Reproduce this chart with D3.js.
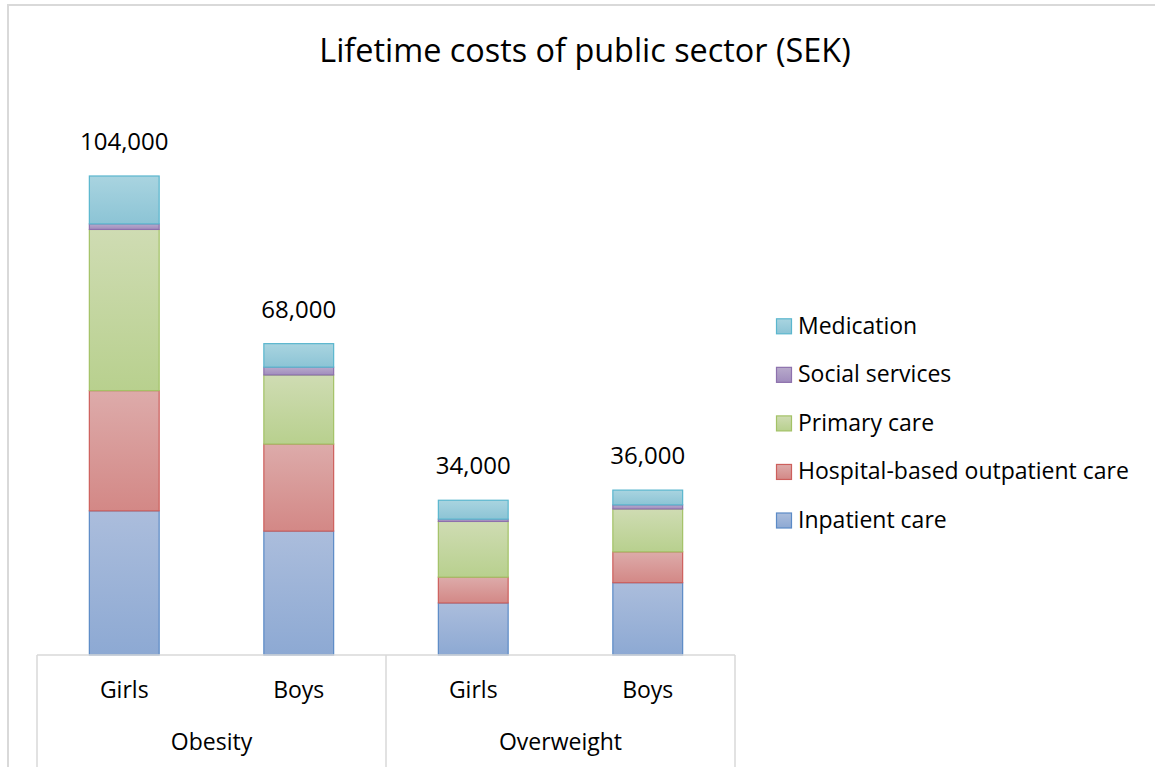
<!DOCTYPE html>
<html>
<head>
<meta charset="utf-8">
<script src="https://cdn.jsdelivr.net/npm/d3@7"></script>
<style>
  html, body { margin: 0; padding: 0; background: #fff; }
  svg { display: block; }
  text { font-family: "Open Sans", "Noto Sans", sans-serif; fill: #000; }
</style>
</head>
<body>
<svg id="chart" width="1155" height="767"></svg>
<script>
// ---- Data (values in thousand SEK) ----
const groups = ["Obesity", "Obesity", "Overweight", "Overweight"];
const categories = ["Girls", "Boys", "Girls", "Boys"];
const seriesNames = ["Inpatient care", "Hospital-based outpatient care", "Primary care", "Social services", "Medication"];
const inpatient  = [31.3, 26.9, 11.3, 15.7];
const hospital   = [26.1, 18.9, 5.6, 6.7];
const primary    = [35.0, 15.0, 12.1, 9.3];
const social     = [1.2, 1.7, 0.5, 0.9];
const medication = [10.4, 5.1, 4.1, 3.2];
const totals     = [104000, 68000, 34000, 36000];
const title = "Lifetime costs of public sector (SEK)";

// ---- Styles ----
const fills = [
  { top: "#abbddc", bottom: "#8da9d3", stroke: "#5b8ac6" },
  { top: "#ddabaa", bottom: "#d38886", stroke: "#cd5f5c" },
  { top: "#cfdcb3", bottom: "#b8d08e", stroke: "#a3c266" },
  { top: "#b8aacb", bottom: "#a08cbd", stroke: "#8d71ad" },
  { top: "#a9d4e0", bottom: "#8cc4d5", stroke: "#5ab6ce" }
];

const seriesValues = [inpatient, hospital, primary, social, medication];
const rows = categories.map((c, i) => {
  const r = { idx: i };
  seriesNames.forEach((s, k) => r[s] = seriesValues[k][i]);
  return r;
});

const svg = d3.select("#chart");
const defs = svg.append("defs");
fills.forEach((f, k) => {
  const g = defs.append("linearGradient").attr("id", "g" + k)
    .attr("x1", 0).attr("y1", 0).attr("x2", 0).attr("y2", 1);
  g.append("stop").attr("offset", "0%").attr("stop-color", f.top);
  g.append("stop").attr("offset", "100%").attr("stop-color", f.bottom);
});

// Frame
svg.append("path")
  .attr("d", "M8,767 L8,5 L1155,5")
  .attr("fill", "none").attr("stroke", "#d9d9d9").attr("stroke-width", 2);

// Title
svg.append("text")
  .attr("x", 585).attr("y", 62)
  .attr("text-anchor", "middle")
  .style("font-size", "32.4px")
  .text(title);

const baseY = 655;
const x = d3.scaleBand().domain(d3.range(categories.length))
  .range([37, 735]).paddingInner(0.6).paddingOuter(0.3);
const y = d3.scaleLinear().domain([0, 120]).range([baseY, 102.3]);

const stack = d3.stack().keys(seriesNames);
const stacked = stack(rows);

const layers = svg.append("g").selectAll("g").data(stacked).join("g")
  .attr("fill", (d, k) => `url(#g${k})`)
  .attr("stroke", (d, k) => fills[k].stroke)
  .attr("stroke-width", 1.2);

layers.selectAll("rect").data(d => d).join("rect")
  .attr("x", d => x(d.data.idx))
  .attr("width", x.bandwidth())
  .attr("y", d => y(d[1]))
  .attr("height", d => y(d[0]) - y(d[1]));

// Total labels
const topOf = i => d3.sum(seriesValues, s => s[i]);
svg.append("g").selectAll("text").data(totals).join("text")
  .attr("x", (d, i) => x(i) + x.bandwidth() / 2)
  .attr("y", (d, i) => y(topOf(i)) - 26)
  .attr("text-anchor", "middle")
  .style("font-size", "24px")
  .text(d => d3.format(",")(d));

// Category axis (multi-level)
const axisColor = "#d9d9d9";
const axisG = svg.append("g");
const [x0, x1] = x.range();
axisG.append("line").attr("x1", x0).attr("x2", x1).attr("y1", baseY).attr("y2", baseY)
  .attr("stroke", axisColor).attr("stroke-width", 1.5);
const groupNames = Array.from(new Set(groups));
const boundaryXs = [x0];
groupNames.forEach((g, gi) => {
  const last = groups.lastIndexOf(g);
  if (gi < groupNames.length - 1) boundaryXs.push((x(last) + x.bandwidth() + x(last + 1)) / 2);
});
boundaryXs.push(x1);
axisG.selectAll("line.b").data(boundaryXs).join("line").attr("class", "b")
  .attr("x1", d => d).attr("x2", d => d).attr("y1", baseY).attr("y2", 767)
  .attr("stroke", axisColor).attr("stroke-width", 1.5);

axisG.selectAll("text.cat").data(categories).join("text").attr("class", "cat")
  .attr("x", (d, i) => x(i) + x.bandwidth() / 2)
  .attr("y", 698)
  .attr("text-anchor", "middle")
  .style("font-size", "23px")
  .text(d => d);

axisG.selectAll("text.grp").data(groupNames).join("text").attr("class", "grp")
  .attr("x", (d, gi) => (boundaryXs[gi] + boundaryXs[gi + 1]) / 2)
  .attr("y", 750)
  .attr("text-anchor", "middle")
  .style("font-size", "23px")
  .text(d => d);

// Legend (top = Medication)
const legendOrder = d3.range(seriesNames.length).reverse();
const lg = svg.append("g").attr("transform", "translate(776,326.3)");
const item = lg.selectAll("g").data(legendOrder).join("g")
  .attr("transform", (d, j) => `translate(0,${j * 48.55})`);
item.append("rect").attr("x", 0.5).attr("y", -7.5).attr("width", 15).attr("height", 15)
  .attr("fill", k => `url(#g${k})`).attr("stroke", k => fills[k].stroke).attr("stroke-width", 1.2);
item.append("text").attr("x", 22).attr("y", 7.5)
  .style("font-size", "23px")
  .text(k => seriesNames[k]);
</script>
</body>
</html>
